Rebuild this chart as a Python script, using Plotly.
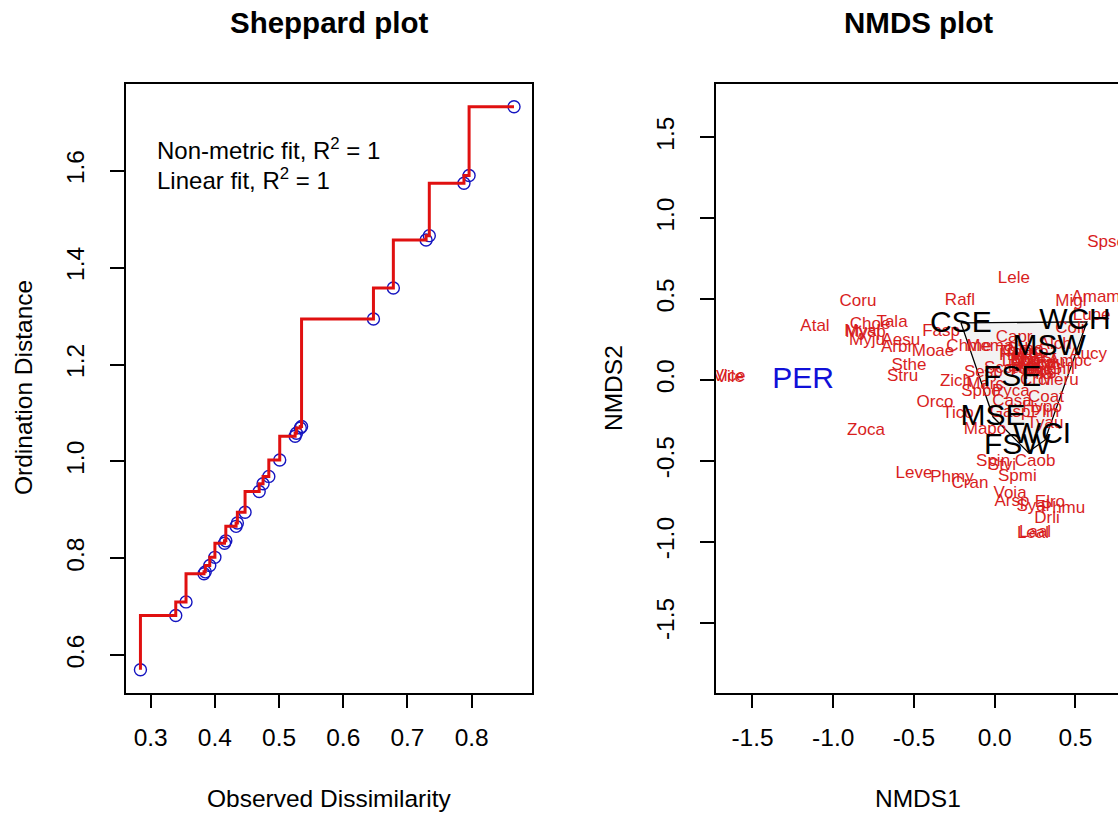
import plotly.graph_objects as go

# ---------------- Sheppard plot data ----------------
obs_dissim = [0.284, 0.339, 0.355, 0.383, 0.385, 0.392, 0.400, 0.415, 0.417, 0.433,
              0.435, 0.447, 0.469, 0.475, 0.484, 0.501, 0.525, 0.527, 0.533, 0.535,
              0.647, 0.678, 0.729, 0.734, 0.788, 0.796, 0.866]
ord_dist = [0.570, 0.682, 0.710, 0.768, 0.772, 0.785, 0.802, 0.831, 0.836, 0.866,
            0.873, 0.895, 0.938, 0.954, 0.969, 1.003, 1.052, 1.058, 1.069, 1.072,
            1.294, 1.358, 1.457, 1.466, 1.574, 1.590, 1.732]
shep_xticks = [0.3, 0.4, 0.5, 0.6, 0.7, 0.8]
shep_yticks = [0.6, 0.8, 1.0, 1.2, 1.4, 1.6]

# ---------------- NMDS plot data ----------------
sp_names = ["Vile", "Vice", "Atal", "Coru", "Choe", "Tala", "Mysp", "Myal", "Myju", "Aesu",
            "Arbr", "Moae", "Sthe", "Stru", "Orco", "Tico", "Zoca", "Fasp", "Rafl", "Lele",
            "Spsc", "Migl", "Amam", "Lupe", "Coli", "Capr", "Chme", "Mema", "Trpr", "Alch",
            "Aucy", "Ampc", "Gifl", "Zich", "Marc", "Crci", "Meru", "Spbo", "Pyca", "Coat",
            "Casa", "Hypo", "Plin", "Gasp", "Mapo", "Tyau", "Spin", "Stvi", "Caob", "Leve",
            "Phmy", "Cran", "Spmi", "Voia", "Arsp", "Syal", "Elro", "Phmu", "Drli", "Leal",
            "Laal", "Heco", "Bopi", "Agca", "Brer", "Fest", "Poan", "Dagl", "Lopu", "Trre",
            "Scca", "Orpu", "Plla", "Brho", "Sesp", "Hola", "Anod", "Cyno", "Ruac"]
sp_x = [-1.640, -1.645, -1.113, -0.847, -0.772, -0.636, -0.800, -0.820, -0.791, -0.581,
        -0.605, -0.382, -0.531, -0.571, -0.370, -0.227, -0.797, -0.332, -0.215, 0.119,
        0.690, 0.472, 0.627, 0.600, 0.466, 0.120, -0.159, -0.030, 0.107, 0.374,
        0.578, 0.466, 0.417, -0.240, -0.060, 0.250, 0.400, -0.085, 0.100, 0.318,
        0.107, 0.293, 0.312, 0.095, -0.060, 0.312, -0.010, 0.045, 0.250, -0.500,
        -0.265, -0.153, 0.140, 0.095, 0.107, 0.237, 0.342, 0.423, 0.324, 0.237,
        0.250, 0.150, 0.200, 0.250, 0.180, 0.280, 0.220, 0.300, 0.160, 0.240,
        0.050, 0.320, 0.270, 0.190, -0.070, 0.210, 0.260, 0.170, 0.230]
sp_y = [0.012, 0.020, 0.328, 0.483, 0.341, 0.353, 0.291, 0.300, 0.241, 0.241,
        0.198, 0.173, 0.087, 0.019, -0.142, -0.210, -0.316, 0.299, 0.490, 0.625,
        0.850, 0.483, 0.506, 0.400, 0.316, 0.260, 0.204, 0.204, 0.167, 0.217,
        0.155, 0.112, 0.062, -0.010, -0.030, -0.005, -0.005, -0.074, -0.074, -0.111,
        -0.136, -0.173, -0.204, -0.204, -0.310, -0.272, -0.506, -0.532, -0.506, -0.578,
        -0.607, -0.644, -0.600, -0.706, -0.750, -0.786, -0.760, -0.795, -0.860, -0.953,
        -0.945, 0.150, 0.120, 0.100, 0.080, 0.140, 0.050, 0.060, 0.110, 0.170,
        0.070, 0.100, 0.030, 0.190, 0.045, 0.130, 0.090, 0.175, 0.065]

site_names = ["CSE", "WCH", "MSW", "FSE", "MSE", "WCI", "FSW"]
site_x = [-0.210, 0.497, 0.337, 0.108, -0.010, 0.293, 0.140]
site_y = [0.345, 0.360, 0.198, 0.012, -0.230, -0.340, -0.413]

out_names = ["PER"]
out_x = [-1.187]
out_y = [0.000]

hull_x = [-0.209, 0.571, 0.311, 0.206, -0.010, -0.209]
hull_y = [0.353, 0.359, -0.372, -0.446, -0.229, 0.353]

nmds_xticks = [-1.5, -1.0, -0.5, 0.0, 0.5]
nmds_yticks = [-1.5, -1.0, -0.5, 0.0, 0.5, 1.0, 1.5]

FONT = "Liberation Sans, Arial, sans-serif"
W, H = 1118, 815

fig = go.Figure()

# Sheppard: points then step line
fig.add_trace(go.Scatter(x=obs_dissim, y=ord_dist, mode="markers",
                         marker=dict(symbol="circle-open", size=12, color="#1515C0",
                                     line=dict(width=1.4, color="#1515C0")),
                         xaxis="x", yaxis="y", showlegend=False))
fig.add_trace(go.Scatter(x=obs_dissim, y=ord_dist, mode="lines",
                         line=dict(shape="vh", color="#E01010", width=3),
                         xaxis="x", yaxis="y", showlegend=False))

# NMDS hull
fig.add_trace(go.Scatter(x=hull_x, y=hull_y, mode="lines", fill="toself",
                         fillcolor="rgba(228,228,228,0.45)",
                         line=dict(color="black", width=1.3),
                         xaxis="x2", yaxis="y2", showlegend=False))
# species
fig.add_trace(go.Scatter(x=sp_x, y=sp_y, mode="text", text=sp_names,
                         textposition="middle center",
                         textfont=dict(family=FONT, size=17, color="#D81E1E"),
                         xaxis="x2", yaxis="y2", showlegend=False))
# sites
fig.add_trace(go.Scatter(x=site_x, y=site_y, mode="text", text=site_names,
                         textposition="middle center",
                         textfont=dict(family=FONT, size=30, color="black"),
                         xaxis="x2", yaxis="y2", showlegend=False))
fig.add_trace(go.Scatter(x=out_x, y=out_y, mode="text", text=out_names,
                         textposition="middle center",
                         textfont=dict(family=FONT, size=30, color="#1010D8"),
                         xaxis="x2", yaxis="y2", showlegend=False))

def px_x(p):
    return p / W

def px_y(p):
    return 1 - p / H

axis_common = dict(showgrid=False, zeroline=False, showline=True, linecolor="black",
                   linewidth=1.5, ticks="outside", ticklen=14, tickwidth=1.5,
                   tickcolor="black", tickfont=dict(family=FONT, size=24.5, color="black"))

fig.update_layout(
    width=W, height=H, margin=dict(l=0, r=0, t=0, b=0),
    paper_bgcolor="white", plot_bgcolor="white", showlegend=False,
    xaxis=dict(domain=[px_x(126), px_x(532)], range=[0.2615, 0.894], mirror=True,
               tickvals=shep_xticks, ticktext=[f"{v:.1f}" for v in shep_xticks],
               ticklabelstandoff=8, anchor="y", **axis_common),
    yaxis=dict(domain=[px_y(692.5), px_y(84)], range=[0.523, 1.779], mirror=True,
               tickvals=shep_yticks, ticktext=[f"{v:.1f}" for v in shep_yticks],
               tickangle=-90, ticklabelstandoff=16, anchor="x", **axis_common),
    xaxis2=dict(domain=[px_x(716), 1.0], range=[-1.726, 0.7635], mirror=True,
                tickvals=nmds_xticks, ticktext=[f"{v:.1f}" for v in nmds_xticks],
                ticklabelstandoff=8, anchor="y2", **axis_common),
    yaxis2=dict(domain=[px_y(692.5), px_y(84)], range=[-1.932, 1.83], mirror=False,
                tickvals=nmds_yticks, ticktext=[f"{v:.1f}" for v in nmds_yticks],
                tickangle=-90, ticklabelstandoff=16, anchor="x2", **axis_common),
)

annots = [
    dict(text="<b>Sheppard plot</b>", x=px_x(329), y=px_y(23), size=29.5, angle=0),
    dict(text="<b>NMDS plot</b>", x=px_x(918), y=px_y(23), size=29.5, angle=0),
    dict(text="Observed Dissimilarity", x=px_x(329), y=px_y(798), size=24.5, angle=0),
    dict(text="NMDS1", x=px_x(918), y=px_y(798), size=24.5, angle=0),
    dict(text="Ordination Distance", x=px_x(23), y=px_y(388), size=24.5, angle=-90),
    dict(text="NMDS2", x=px_x(613), y=px_y(388), size=24.5, angle=-90),
]
for a in annots:
    fig.add_annotation(text=a["text"], x=a["x"], y=a["y"], xref="paper", yref="paper",
                       xanchor="center", yanchor="middle", showarrow=False,
                       textangle=a["angle"],
                       font=dict(family=FONT, size=a["size"], color="black"))

fig.add_annotation(text="Non-metric fit, R<sup>2</sup> = 1", x=px_x(155), y=px_y(149),
                   xref="paper", yref="paper", xanchor="left", yanchor="middle",
                   showarrow=False, font=dict(family=FONT, size=24, color="black"))
fig.add_annotation(text="Linear fit, R<sup>2</sup> = 1", x=px_x(155), y=px_y(179),
                   xref="paper", yref="paper", xanchor="left", yanchor="middle",
                   showarrow=False, font=dict(family=FONT, size=24, color="black"))

fig.write_html("out.html")
